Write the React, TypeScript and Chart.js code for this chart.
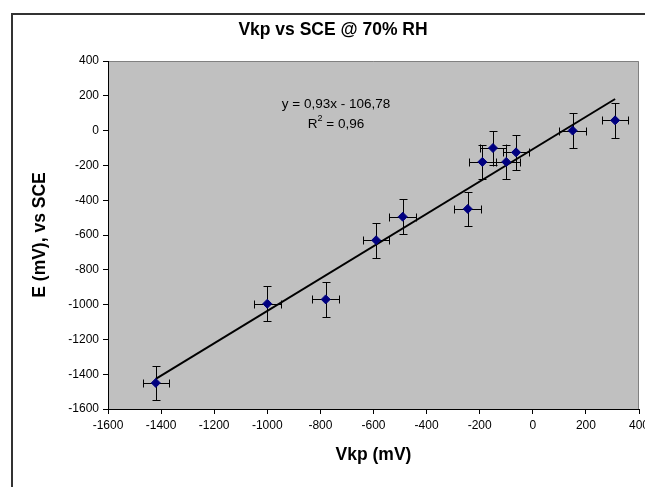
import React, { useEffect, useRef } from "react";
import { Chart, registerables } from "chart.js";
Chart.register(...registerables);

// ---- data ----
const vkp = [-1420, -1000, -780, -590, -490, -245, -190, -150, -100, -63, 150, 310];
const sce = [-1450, -995, -970, -630, -495, -450, -180, -100, -180, -125, 0, 59];
const vkpErr = [50, 50, 50, 50, 50, 50, 50, 50, 50, 50, 50, 50];
const sceErr = [100, 100, 100, 100, 100, 100, 100, 100, 100, 100, 100, 100];
const trendSlope = 0.93;
const trendIntercept = -106.78;
const trendX = [-1420, 310];
const axisMin = -1600;
const axisMax = 400;
const axisStep = 200;
const titleText = "Vkp vs SCE @ 70% RH";
const xTitle = "Vkp (mV)";
const yTitle = "E (mV), vs SCE";
const eqLine1 = "y = 0,93x - 106,78";
const eqLine2a = "R";
const eqLine2sup = "2";
const eqLine2b = " = 0,96";

const FONT = "'Liberation Sans', Arial, Helvetica, sans-serif";

const backgroundPlugin = {
  id: "bgPlot",
  beforeDraw(chart: any) {
    const { ctx, chartArea, width, height } = chart;
    ctx.save();
    ctx.fillStyle = "#ffffff";
    ctx.fillRect(0, 0, width, height);
    ctx.fillStyle = "#c0c0c0";
    ctx.fillRect(chartArea.left, chartArea.top, chartArea.right - chartArea.left, chartArea.bottom - chartArea.top);
    // gray top/right frame
    ctx.strokeStyle = "#808080";
    ctx.lineWidth = 1;
    ctx.beginPath();
    ctx.moveTo(chartArea.left, Math.round(chartArea.top) + 0.5);
    ctx.lineTo(Math.round(chartArea.right) - 0.5, Math.round(chartArea.top) + 0.5);
    ctx.lineTo(Math.round(chartArea.right) - 0.5, chartArea.bottom);
    ctx.stroke();
    // outer chart frame
    ctx.strokeStyle = "#333333";
    ctx.lineWidth = 2;
    ctx.beginPath();
    ctx.moveTo(12, height + 2);
    ctx.lineTo(12, 14);
    ctx.lineTo(width + 2, 14);
    ctx.stroke();
    // chart title (centred on the full chart box, which extends past the viewport)
    ctx.fillStyle = "#000";
    ctx.font = `bold 17.5px ${FONT}`;
    ctx.textAlign = "center";
    ctx.textBaseline = "middle";
    ctx.fillText(titleText, 333, 30);
    ctx.restore();
  },
};

const errorBarPlugin = {
  id: "errorBars",
  beforeDatasetsDraw(chart: any) {
    const { ctx, scales } = chart;
    const x = scales.x;
    const y = scales.y;
    const cap = 4;
    ctx.save();
    ctx.strokeStyle = "#000000";
    ctx.lineWidth = 1;
    vkp.forEach((vx, i) => {
      const px = Math.round(x.getPixelForValue(vx)) + 0.5;
      const py = Math.round(y.getPixelForValue(sce[i])) + 0.5;
      const xl = Math.round(x.getPixelForValue(vx - vkpErr[i])) + 0.5;
      const xr = Math.round(x.getPixelForValue(vx + vkpErr[i])) + 0.5;
      const yt = Math.round(y.getPixelForValue(sce[i] + sceErr[i])) + 0.5;
      const yb = Math.round(y.getPixelForValue(sce[i] - sceErr[i])) + 0.5;
      ctx.beginPath();
      ctx.moveTo(xl, py);
      ctx.lineTo(xr, py);
      ctx.moveTo(xl, py - cap);
      ctx.lineTo(xl, py + cap);
      ctx.moveTo(xr, py - cap);
      ctx.lineTo(xr, py + cap);
      ctx.moveTo(px, yt);
      ctx.lineTo(px, yb);
      ctx.moveTo(px - cap, yt);
      ctx.lineTo(px + cap, yt);
      ctx.moveTo(px - cap, yb);
      ctx.lineTo(px + cap, yb);
      ctx.stroke();
    });
    ctx.restore();
  },
};

const equationPlugin = {
  id: "equation",
  afterDatasetsDraw(chart: any) {
    const { ctx, chartArea } = chart;
    const cx = chartArea.left + 228;
    const y1 = chartArea.top + 43;
    const y2 = chartArea.top + 63;
    const fs = 13.5;
    ctx.save();
    ctx.fillStyle = "#000";
    ctx.textBaseline = "middle";
    ctx.font = `${fs}px ${FONT}`;
    ctx.textAlign = "center";
    ctx.fillText(eqLine1, cx, y1);
    const wa = ctx.measureText(eqLine2a).width;
    const wb = ctx.measureText(eqLine2b).width;
    ctx.font = `9px ${FONT}`;
    const ws = ctx.measureText(eqLine2sup).width;
    const total = wa + ws + wb;
    let sx = cx - total / 2;
    ctx.textAlign = "left";
    ctx.font = `${fs}px ${FONT}`;
    ctx.fillText(eqLine2a, sx, y2);
    sx += wa;
    ctx.font = `9px ${FONT}`;
    ctx.fillText(eqLine2sup, sx, y2 - 5);
    sx += ws;
    ctx.font = `${fs}px ${FONT}`;
    ctx.fillText(eqLine2b, sx, y2);
    ctx.restore();
  },
};

export default function App() {
  const ref = useRef<HTMLCanvasElement | null>(null);
  useEffect(() => {
    if (!ref.current) return;
    const points = vkp.map((vx, i) => ({ x: vx, y: sce[i] }));
    const trend = trendX.map((tx) => ({ x: tx, y: trendSlope * tx + trendIntercept }));
    const tickFont = { family: FONT, size: 12 };
    const chart = new Chart(ref.current, {
      type: "scatter",
      data: {
        datasets: [
          {
            data: points,
            pointStyle: "rectRot",
            pointRadius: 4.5,
            backgroundColor: "#000080",
            borderColor: "#000080",
            borderWidth: 1,
            showLine: false,
          },
          {
            data: trend,
            showLine: true,
            borderColor: "#000000",
            borderWidth: 2,
            pointRadius: 0,
            fill: false,
          },
        ],
      },
      plugins: [backgroundPlugin, errorBarPlugin, equationPlugin],
      options: {
        animation: false,
        responsive: false,
        events: [],
        layout: { padding: { left: 12, top: 61, right: 6, bottom: 0 } },
        plugins: {
          legend: { display: false },
          tooltip: { enabled: false },
          title: { display: false },
        },
        scales: {
          x: {
            type: "linear",
            position: "bottom",
            min: axisMin,
            max: axisMax,
            ticks: {
              stepSize: axisStep,
              callback: (v: any) => String(v),
              color: "#000",
              font: tickFont,
              padding: 4,
              maxRotation: 0,
              autoSkip: false,
            },
            grid: { drawOnChartArea: false, drawTicks: true, tickLength: 5, color: "#000" },
            border: { display: true, color: "#000", width: 1 },
            title: {
              display: true,
              text: xTitle,
              color: "#000",
              font: { family: FONT, size: 17.5, weight: "bold" },
              padding: { top: 0, bottom: 21 },
            },
            afterFit: (scale: any) => {
              scale.height = 78;
              scale.paddingLeft = 0;
              scale.paddingRight = 0;
            },
          },
          y: {
            type: "linear",
            position: "left",
            min: axisMin,
            max: axisMax,
            ticks: {
              stepSize: axisStep,
              callback: (v: any) => String(v),
              color: "#000",
              font: tickFont,
              padding: 4,
              autoSkip: false,
            },
            grid: { drawOnChartArea: false, drawTicks: true, tickLength: 5, color: "#000" },
            border: { display: true, color: "#000", width: 1 },
            title: {
              display: true,
              text: yTitle,
              color: "#000",
              font: { family: FONT, size: 17.5, weight: "bold" },
              padding: { top: 18, bottom: 0 },
            },
            afterFit: (scale: any) => {
              scale.width = 96;
              scale.paddingTop = 0;
              scale.paddingBottom = 0;
            },
          },
        },
      } as any,
    });
    return () => chart.destroy();
  }, []);
  return (
    <div style={{ position: "absolute", left: 0, top: 0, width: 645, height: 487 }}>
      <canvas ref={ref} width={645} height={487} style={{ display: "block", width: 645, height: 487 }} />
    </div>
  );
}
